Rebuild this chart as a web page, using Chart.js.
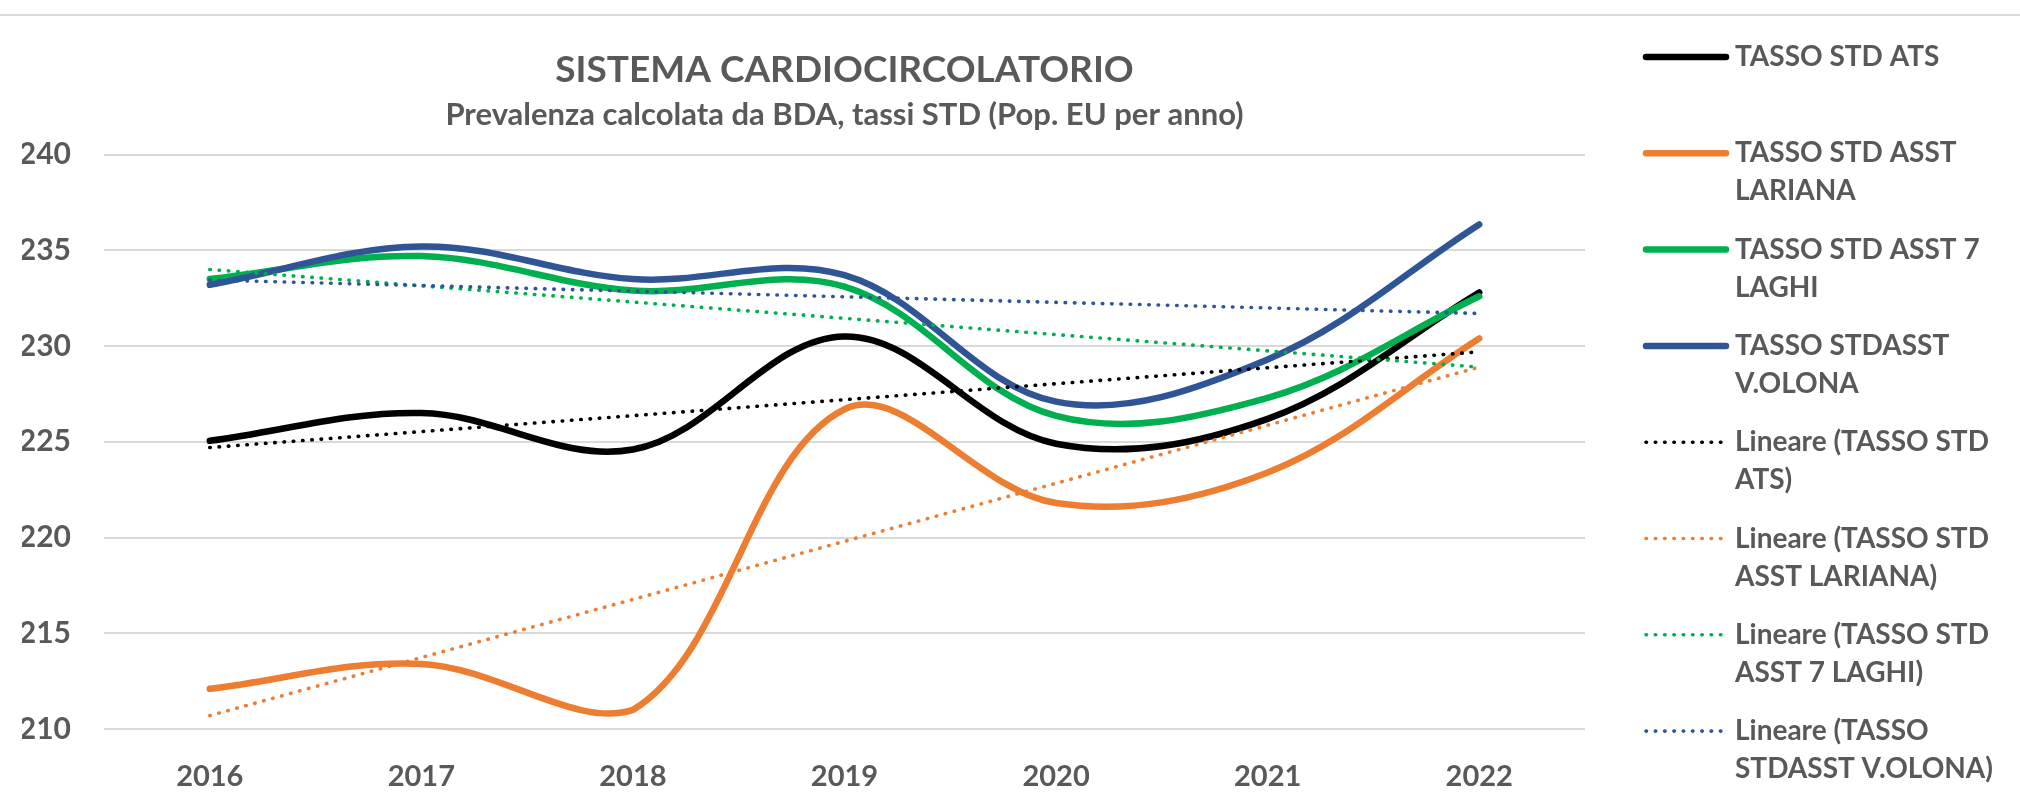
<!DOCTYPE html>
<html>
<head>
<meta charset="utf-8">
<title>Sistema cardiocircolatorio</title>
<script src="https://cdn.jsdelivr.net/npm/chart.js@4/dist/chart.umd.min.js"></script>
<style>
    html, body { margin: 0; padding: 0; background: #ffffff; }
    #wrap { width: 2020px; height: 798px; }
</style>
</head>
<body>
<div id="wrap"><canvas id="chart" width="2020" height="798"></canvas></div>
<script>
/* ==========================================
   DATA
========================================== */
const years = ['2016', '2017', '2018', '2019', '2020', '2021', '2022'];

const tassoAts     = [225.05, 226.5, 224.6, 230.5, 224.9, 226.2, 232.8];
const tassoLariana = [212.1, 213.4, 211.0, 226.7, 221.8, 223.4, 230.4];
const tassoLaghi   = [233.5, 234.7, 232.9, 233.1, 226.35, 227.3, 232.6];
const tassoOlona   = [233.2, 235.2, 233.5, 233.7, 227.1, 229.3, 236.35];

// linear trendlines: only the two ends are read, the line spans the gap
const trendAts     = [224.7, null, null, null, null, null, 229.7];
const trendLariana = [210.7, null, null, null, null, null, 228.9];
const trendLaghi   = [234.0, null, null, null, null, null, 228.9];
const trendOlona   = [233.45, null, null, null, null, null, 231.7];

const yTicks = [210, 215, 220, 225, 230, 235, 240];

const legendLines = [
    ['TASSO STD ATS'],
    ['TASSO STD ASST', 'LARIANA'],
    ['TASSO STD ASST 7', 'LAGHI'],
    ['TASSO STDASST', 'V.OLONA'],
    ['Lineare (TASSO STD', 'ATS)'],
    ['Lineare (TASSO STD', 'ASST LARIANA)'],
    ['Lineare (TASSO STD', 'ASST 7 LAGHI)'],
    ['Lineare (TASSO', 'STDASST V.OLONA)']
];

// --- STYLE ---
const TEXT = '#595959';
const GRID = '#D9D9D9';
const FONT = 'Lato';
const C_ATS = '#000000';
const C_LAR = '#ED7D31';
const C_LAG = '#00B050';
const C_OLO = '#2F5597';

function solid(label, data, color, order) {
    return {
        label, data, order,
        borderColor: color,
        backgroundColor: color,
        borderWidth: 6.5,
        borderCapStyle: 'round',
        pointRadius: 0,
        tension: 0.36,
        fill: false
    };
}

function dotted(label, data, color, order) {
    return {
        label, data, order,
        borderColor: color,
        backgroundColor: color,
        borderWidth: 3.6,
        borderDash: [0.5, 8.8],
        borderCapStyle: 'round',
        pointRadius: 0,
        tension: 0,
        spanGaps: true,
        fill: false
    };
}

const datasets = [
    solid(legendLines[0].join(' '), tassoAts, C_ATS, 8),
    solid(legendLines[1].join(' '), tassoLariana, C_LAR, 7),
    solid(legendLines[2].join(' '), tassoLaghi, C_LAG, 6),
    solid(legendLines[3].join(' '), tassoOlona, C_OLO, 5),
    dotted(legendLines[4].join(' '), trendAts, C_ATS, 4),
    dotted(legendLines[5].join(' '), trendLariana, C_LAR, 3),
    dotted(legendLines[6].join(' '), trendLaghi, C_LAG, 2),
    dotted(legendLines[7].join(' '), trendOlona, C_OLO, 1)
];

/* ==========================================
   SIDE LEGEND + FRAME LINE
========================================== */
const sideLegend = {
    id: 'sideLegend',
    beforeDraw(chart) {
        const ctx = chart.ctx;
        ctx.save();
        ctx.fillStyle = '#ffffff';
        ctx.fillRect(0, 0, chart.width, chart.height);
        ctx.strokeStyle = GRID;
        ctx.lineWidth = 2;
        ctx.beginPath();
        ctx.moveTo(0, 15);
        ctx.lineTo(chart.width, 15);
        ctx.stroke();
        ctx.restore();
    },
    afterDraw(chart) {
        const ctx = chart.ctx;
        ctx.save();
        ctx.font = `bold 28px ${FONT}`;
        ctx.textBaseline = 'middle';
        ctx.textAlign = 'left';
        chart.data.datasets.forEach((ds, i) => {
            const y = 57 + i * 96.3;
            const isDotted = !!ds.borderDash;
            ctx.strokeStyle = ds.borderColor;
            ctx.lineWidth = isDotted ? ds.borderWidth : 6.5;
            ctx.lineCap = 'round';
            ctx.setLineDash(isDotted ? ds.borderDash : []);
            ctx.beginPath();
            ctx.moveTo(1646, y);
            ctx.lineTo(isDotted ? 1722 : 1726, y);
            ctx.stroke();
            ctx.fillStyle = TEXT;
            legendLines[i].forEach((t, j) => ctx.fillText(t, 1735, y + j * 38));
        });
        ctx.restore();
    }
};

/* ==========================================
   CHART
========================================== */
new Chart(document.getElementById('chart').getContext('2d'), {
    type: 'line',
    data: { labels: years, datasets },
    options: {
        responsive: false,
        animation: false,
        layout: { padding: { left: 22, right: 435, top: 0, bottom: 5 } },
        plugins: {
            legend: { display: false },
            tooltip: { enabled: false },
            title: {
                display: true,
                text: 'SISTEMA CARDIOCIRCOLATORIO',
                color: TEXT,
                fullSize: false,
                font: { family: FONT, size: 37, weight: 'bold' },
                padding: { top: 48, bottom: 4 }
            },
            subtitle: {
                display: true,
                text: 'Prevalenza calcolata da BDA, tassi STD (Pop. EU per anno)',
                color: TEXT,
                fullSize: false,
                font: { family: FONT, size: 31, weight: 'bold' },
                padding: { top: 0, bottom: 21 }
            }
        },
        scales: {
            x: {
                offset: true,
                grid: { display: false, drawTicks: false },
                border: { display: false },
                afterFit(scale) { scale.height = 64; },
                ticks: {
                    color: TEXT,
                    padding: 30,
                    font: { family: FONT, size: 29, weight: 'bold' }
                }
            },
            y: {
                min: yTicks[0],
                max: yTicks[yTicks.length - 1],
                afterBuildTicks(scale) {
                    scale.ticks = yTicks.map(v => ({ value: v }));
                },
                afterFit(scale) { scale.width = 82; },
                grid: { color: GRID, lineWidth: 2, drawTicks: false },
                border: { display: false },
                ticks: {
                    color: TEXT,
                    padding: 33,
                    font: { family: FONT, size: 30, weight: 'bold' }
                }
            }
        }
    },
    plugins: [sideLegend]
});
</script>
</body>
</html>
